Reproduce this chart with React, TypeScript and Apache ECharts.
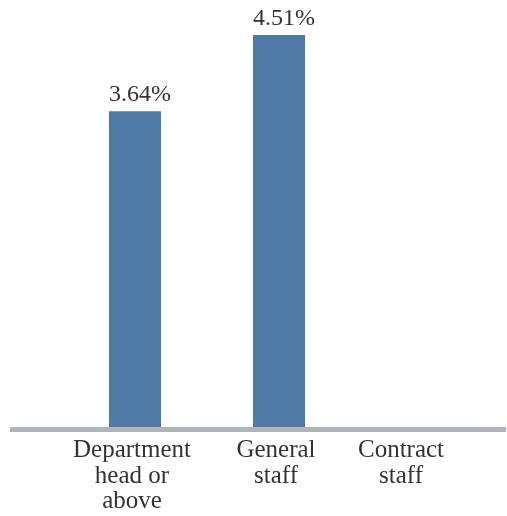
import React, { useEffect, useRef } from "react";
import * as echarts from "echarts";

const categories = ["Department\nhead or\nabove", "General\nstaff", "Contract\nstaff"];
const values: (number | null)[] = [3.64, 4.51, null];

const FONT = "Liberation Serif";

export default function App() {
  const ref = useRef<HTMLDivElement>(null);
  useEffect(() => {
    if (!ref.current) return;
    const chart = echarts.init(ref.current, undefined, { renderer: "svg" });
    chart.setOption({
      animation: false,
      textStyle: { fontFamily: FONT },
      grid: { left: 63, right: 12, top: 35, bottom: 86, containLabel: false },
      xAxis: {
        type: "category",
        data: categories,
        axisLine: { show: false },
        axisTick: { show: false },
        axisLabel: {
          margin: 6,
          interval: 0,
          fontFamily: FONT,
          fontSize: 25,
          formatter: (v: string, i: number) => (i === 2 ? `{c|${v}}` : `{n|${v}}`),
          rich: {
            n: { fontFamily: FONT, fontSize: 25, lineHeight: 25.5, color: "#333", padding: [0, 6, 0, 0] },
            c: { fontFamily: FONT, fontSize: 25, lineHeight: 25.5, color: "#333", padding: [0, 44, 0, 0] },
          },
        },
      },
      yAxis: {
        type: "value",
        min: 0,
        max: 4.51,
        show: false,
        splitLine: { show: false },
      },
      graphic: [
        {
          type: "rect",
          shape: { x: 10, y: 427, width: 496, height: 5 },
          style: { fill: "#b1b4b9" },
          z: 10,
        },
      ],
      series: [
        {
          type: "bar",
          data: values,
          barWidth: 52,
          itemStyle: { color: "#4f7aa6" },
          label: {
            show: true,
            position: "top",
            distance: 6,
            offset: [5, 0],
            fontFamily: FONT,
            fontSize: 24,
            color: "#333",
            formatter: (p: any) => `${Number(p.value).toFixed(2)}%`,
          },
        },
      ],
    });
    return () => chart.dispose();
  }, []);
  return (
    <div
      ref={ref}
      style={{ position: "fixed", left: 0, top: 0, width: 507, height: 516 }}
    />
  );
}
